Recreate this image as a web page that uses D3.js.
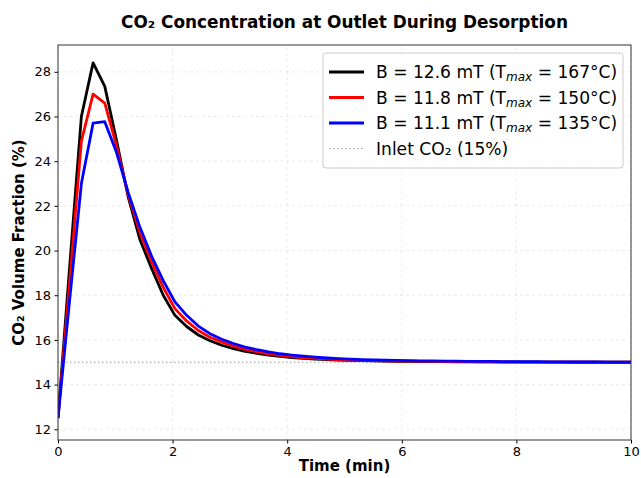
<!DOCTYPE html>
<html>
<head>
<meta charset="utf-8">
<script src="https://cdn.jsdelivr.net/npm/d3@7"></script>
<style>
  body { margin: 0; background: #fff; }
  text { font-family: "DejaVu Sans", sans-serif; }
</style>
</head>
<body>
<script>
var W = 641, H = 478;
var margin = {left: 58, right: 10, top: 45, bottom: 38};

// time points (min), 50 samples from 0 to 10
var times = d3.range(50).map(function(i) { return i * 10 / 49; });

var b126 = [12.5, 19.3, 26.0, 28.4, 27.35, 24.95, 22.4, 20.5, 19.2, 18.0,
  17.1, 16.6, 16.22, 15.96, 15.76, 15.61, 15.49, 15.4, 15.32, 15.26,
  15.21, 15.17, 15.14, 15.12, 15.1, 15.08, 15.07, 15.06, 15.05, 15.04,
  15.04, 15.03, 15.03, 15.03, 15.02, 15.02, 15.02, 15.02, 15.01, 15.01,
  15.01, 15.01, 15.01, 15.01, 15.0, 15.0, 15.0, 15.0, 15.0, 15.0];

var b118 = [12.5, 18.6, 24.9, 27.0, 26.6, 24.7, 22.5, 20.8, 19.5, 18.35,
  17.4, 16.85, 16.42, 16.12, 15.9, 15.72, 15.58, 15.47, 15.38, 15.31,
  15.25, 15.2, 15.17, 15.14, 15.12, 15.1, 15.08, 15.07, 15.06, 15.05,
  15.05, 15.04, 15.04, 15.03, 15.03, 15.03, 15.02, 15.02, 15.02, 15.02,
  15.01, 15.01, 15.01, 15.01, 15.01, 15.01, 15.0, 15.0, 15.0, 15.0];

var b111 = [12.5, 17.8, 23.0, 25.7, 25.77, 24.4, 22.6, 21.05, 19.75, 18.65,
  17.7, 17.1, 16.62, 16.28, 16.03, 15.84, 15.68, 15.56, 15.46, 15.38,
  15.32, 15.27, 15.23, 15.19, 15.16, 15.14, 15.12, 15.1, 15.09, 15.08,
  15.07, 15.06, 15.06, 15.05, 15.05, 15.04, 15.04, 15.04, 15.03, 15.03,
  15.03, 15.03, 15.02, 15.02, 15.02, 15.02, 15.02, 15.01, 15.01, 15.01];

var inletCO2 = 15;
var xTicks = [0, 2, 4, 6, 8, 10];
var yTicks = [12, 14, 16, 18, 20, 22, 24, 26, 28];

var series = [
  {field: "B = 12.6 mT (T", sub: "max", tail: " = 167°C)", color: "#000000", values: b126},
  {field: "B = 11.8 mT (T", sub: "max", tail: " = 150°C)", color: "#ff0000", values: b118},
  {field: "B = 11.1 mT (T", sub: "max", tail: " = 135°C)", color: "#0000ff", values: b111}
];

var svg = d3.select("body").append("svg")
  .attr("width", W)
  .attr("height", H);

var x = d3.scaleLinear().domain([0, 10]).range([margin.left, W - margin.right]);
var y = d3.scaleLinear().domain([11.52, 29.2]).range([H - margin.bottom, margin.top]);

// grid
svg.append("g").selectAll("line.gx")
  .data(xTicks).enter().append("line")
  .attr("x1", function(d) { return x(d); })
  .attr("x2", function(d) { return x(d); })
  .attr("y1", y.range()[0]).attr("y2", y.range()[1])
  .attr("stroke", "#b0b0b0").attr("stroke-opacity", 0.3)
  .attr("stroke-width", 0.8).attr("stroke-dasharray", "3,3");

svg.append("g").selectAll("line.gy")
  .data(yTicks).enter().append("line")
  .attr("y1", function(d) { return y(d); })
  .attr("y2", function(d) { return y(d); })
  .attr("x1", x.range()[0]).attr("x2", x.range()[1])
  .attr("stroke", "#b0b0b0").attr("stroke-opacity", 0.3)
  .attr("stroke-width", 0.8).attr("stroke-dasharray", "3,3");

// inlet line
svg.append("line")
  .attr("x1", x(0)).attr("x2", x(10))
  .attr("y1", y(inletCO2)).attr("y2", y(inletCO2))
  .attr("stroke", "#999999").attr("stroke-width", 1.2)
  .attr("stroke-dasharray", "1.5,2.5");

var line = d3.line()
  .x(function(d, i) { return x(times[i]); })
  .y(function(d) { return y(d); });

var clip = svg.append("clipPath").attr("id", "clip")
  .append("rect")
  .attr("x", margin.left).attr("y", margin.top)
  .attr("width", W - margin.left - margin.right)
  .attr("height", H - margin.top - margin.bottom);

series.forEach(function(s) {
  svg.append("path")
    .datum(s.values)
    .attr("clip-path", "url(#clip)")
    .attr("fill", "none")
    .attr("stroke", s.color)
    .attr("stroke-width", 2.8)
    .attr("stroke-linejoin", "round")
    .attr("d", line);
});

// axes
var xAxis = d3.axisBottom(x).tickValues(xTicks).tickSize(3.5).tickPadding(3.5);
var yAxis = d3.axisLeft(y).tickValues(yTicks).tickSize(3.5).tickPadding(3.5);

svg.append("g")
  .attr("transform", "translate(0," + (H - margin.bottom) + ")")
  .call(xAxis)
  .call(function(g) { g.select(".domain").remove(); })
  .selectAll("text").attr("font-size", 13).attr("font-family", "DejaVu Sans").attr("fill", "#000");

svg.append("g")
  .attr("transform", "translate(" + margin.left + ",0)")
  .call(yAxis)
  .call(function(g) { g.select(".domain").remove(); })
  .selectAll("text").attr("font-size", 13).attr("font-family", "DejaVu Sans").attr("fill", "#000");

// frame
svg.append("rect")
  .attr("x", margin.left).attr("y", margin.top)
  .attr("width", W - margin.left - margin.right)
  .attr("height", H - margin.top - margin.bottom)
  .attr("fill", "none").attr("stroke", "#333").attr("stroke-width", 1);

// title and labels
svg.append("text")
  .attr("x", (x.range()[0] + x.range()[1]) / 2).attr("y", 28)
  .attr("text-anchor", "middle")
  .attr("font-size", 16.9).attr("font-weight", "bold")
  .text("CO₂ Concentration at Outlet During Desorption");

svg.append("text")
  .attr("x", (x.range()[0] + x.range()[1]) / 2).attr("y", 471)
  .attr("text-anchor", "middle")
  .attr("font-size", 15).attr("font-weight", "bold")
  .text("Time (min)");

svg.append("text")
  .attr("transform", "translate(24," + ((y.range()[0] + y.range()[1]) / 2) + ") rotate(-90)")
  .attr("text-anchor", "middle")
  .attr("font-size", 15).attr("font-weight", "bold")
  .text("CO₂ Volume Fraction (%)");

// legend
var legend = svg.append("g").attr("transform", "translate(323,53)");
legend.append("rect")
  .attr("width", 300).attr("height", 115)
  .attr("rx", 3)
  .attr("fill", "#fff").attr("fill-opacity", 0.8)
  .attr("stroke", "#cccccc");

series.forEach(function(s, i) {
  var yy = 19 + i * 25.5;
  legend.append("line")
    .attr("x1", 6).attr("x2", 41).attr("y1", yy).attr("y2", yy)
    .attr("stroke", s.color).attr("stroke-width", 2.8);
  var t = legend.append("text")
    .attr("x", 53).attr("y", yy + 6)
    .attr("font-size", 17.1);
  t.append("tspan").text(s.field);
  t.append("tspan").attr("font-style", "italic").attr("font-size", 12).attr("dy", 3).text(s.sub);
  t.append("tspan").attr("dy", -3).text(s.tail);
});

var yi = 19 + 3 * 25.5;
legend.append("line")
  .attr("x1", 6).attr("x2", 41).attr("y1", yi).attr("y2", yi)
  .attr("stroke", "#999999").attr("stroke-width", 1.2)
  .attr("stroke-dasharray", "1.5,2.5");
legend.append("text")
  .attr("x", 53).attr("y", yi + 6)
  .attr("font-size", 17.1)
  .text("Inlet CO₂ (15%)");
</script>
</body>
</html>
